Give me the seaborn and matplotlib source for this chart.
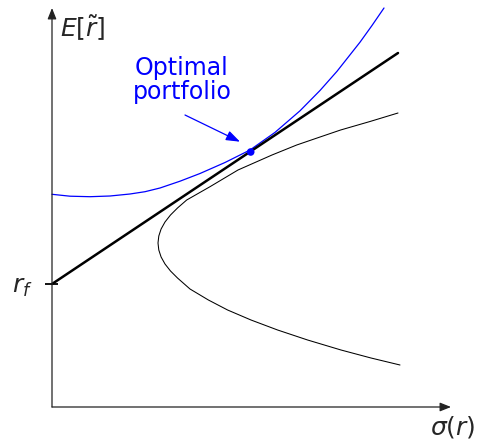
import matplotlib
matplotlib.use("Agg")
import matplotlib.pyplot as plt
import seaborn as sns
import pandas as pd

sns.set_theme(style="white")
plt.rcParams["font.family"] = ["DejaVu Sans"]
plt.rcParams["mathtext.fontset"] = "dejavusans"

# Risk-free rate and capital market line (sigma, expected return)
rf = 124
cml_sigma = [0, 346]
cml_ret = [124, 355]

# Efficient frontier (mean-variance hyperbola), upper branch then lower branch
frontier_sigma = [346, 318, 288.6, 266, 244.7, 220, 186, 158, 134.7, 125.5, 118.5, 113,
                  109.1, 106.8, 106, 106.8, 109.1, 113, 118.5, 125.5, 138, 156.4, 175.6,
                  199, 225.6, 255.6, 289, 319, 348]
frontier_ret = [295, 286.5, 278, 270.3, 263, 253, 238, 221.3, 208, 200, 193, 186,
                179, 172, 165, 158, 151, 144, 137, 130, 119, 108, 98,
                88, 78, 68, 58, 50, 43]

# Indifference curve of the investor
indiff_sigma = [0, 18, 38, 58, 78, 93, 108, 128, 148, 173, 198, 223, 248, 268, 285,
                308, 320, 332]
indiff_ret = [213.7, 211.8, 211.3, 212, 214, 216.3, 220, 226.8, 234.5, 245.5, 258, 275.6,
              297.2, 317.5, 336.7, 365.8, 382.5, 400]

# Tangency point
opt_sigma = [198.7]
opt_ret = [256]

fig = plt.figure(figsize=(4.79, 4.42), dpi=100)
ax = fig.add_axes([0, 0, 1, 1])
ax.set_xlim(-52, 427)
ax.set_ylim(-34, 408)
ax.axis("off")

# axes with arrow heads
axis_kw = dict(arrowstyle="-|>,head_length=0.55,head_width=0.22", color="#222222",
               lw=0.9, shrinkA=0, shrinkB=0)
ax.annotate("", xy=(0, 400), xytext=(0, 1), arrowprops=axis_kw)
ax.annotate("", xy=(399, 1), xytext=(0, 1), arrowprops=axis_kw)

frontier = pd.DataFrame({"sigma": frontier_sigma, "ret": frontier_ret})
sns.lineplot(data=frontier, x="sigma", y="ret", sort=False, estimator=None,
             color="black", lw=0.75, ax=ax)

indiff = pd.DataFrame({"sigma": indiff_sigma, "ret": indiff_ret})
sns.lineplot(data=indiff, x="sigma", y="ret", sort=False, estimator=None,
             color="#0000ff", lw=0.9, ax=ax)

cml = pd.DataFrame({"sigma": cml_sigma, "ret": cml_ret})
sns.lineplot(data=cml, x="sigma", y="ret", sort=False, estimator=None,
             color="black", lw=1.8, ax=ax)

sns.scatterplot(x=opt_sigma, y=opt_ret, color="#0000ff", s=30, edgecolor="none",
                zorder=5, ax=ax)

# r_f tick on the vertical axis
ax.plot([-7, 6], [rf, rf], color="black", lw=1.3, solid_capstyle="butt")
ax.text(-19, rf - 3, r"$r_f$", ha="right", va="center", fontsize=18)

ax.text(8, 380, r"$E[\tilde{r}]$", ha="left", va="center", fontsize=18)
ax.text(424, -19, r"$\sigma(r)$", ha="right", va="center", fontsize=18)

ax.text(130, 328, "Optimal\nportfolio", ha="center", va="center", fontsize=17,
        color="#0000ff", linespacing=1.05)
ax.annotate("", xy=(188, 266.3), xytext=(133, 293),
            arrowprops=dict(arrowstyle="-|>,head_length=0.7,head_width=0.25",
                            color="#0000ff", lw=0.9, shrinkA=0, shrinkB=0))

fig.savefig("out.png", dpi=100)
